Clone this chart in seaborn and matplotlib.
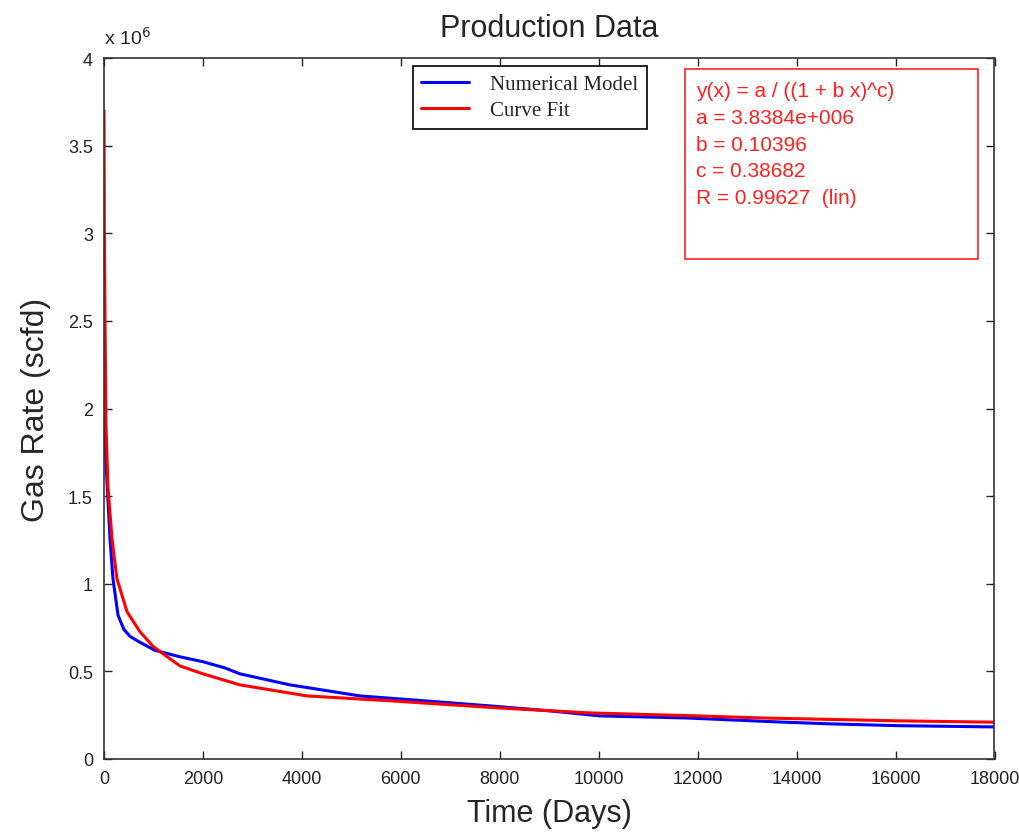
import pandas as pd
import matplotlib
matplotlib.use("Agg")
import matplotlib.pyplot as plt
import matplotlib.patches as patches
from matplotlib.ticker import FuncFormatter, MultipleLocator
import seaborn as sns

# Values
model_days = [0, 10, 30, 60, 120, 180, 283, 400, 525, 700, 1030, 1535, 2000,
              2440, 2747, 3758, 4500, 5170, 6525, 7800, 9000, 10020, 11780,
              13660, 14730, 16080, 18000]
model_rate = [2.25e6, 1.90e6, 1.75e6, 1.58e6, 1.26e6, 1.03e6, 0.82e6, 0.74e6,
              0.70e6, 0.67e6, 0.62e6, 0.583e6, 0.555e6, 0.52e6, 0.486e6,
              0.423e6, 0.39e6, 0.36e6, 0.331e6, 0.303e6, 0.275e6, 0.246e6,
              0.234e6, 0.211e6, 0.20e6, 0.19e6, 0.183e6]

fit_days = [0, 5, 20, 40, 80, 160, 260, 465, 727, 1000, 1535, 2000, 2747,
            4100, 5840, 8000, 9818, 11980, 13313, 16000, 18000]
fit_rate = [3.70e6, 3.10e6, 2.50e6, 1.90e6, 1.55e6, 1.26e6, 1.03e6, 0.84e6,
            0.726e6, 0.64e6, 0.531e6, 0.486e6, 0.423e6, 0.36e6, 0.331e6,
            0.291e6, 0.263e6, 0.246e6, 0.234e6, 0.218e6, 0.21e6]

fit_text = ["y(x) = a / ((1 + b x)^c)",
            "a = 3.8384e+006",
            "b = 0.10396",
            "c = 0.38682",
            "R = 0.99627  (lin)"]

df_model = pd.DataFrame({"days": model_days, "rate": model_rate})
df_fit = pd.DataFrame({"days": fit_days, "rate": fit_rate})

sns.set_style("ticks")
plt.rcParams['font.family'] = ['Liberation Sans', 'DejaVu Sans']

fig = plt.figure(figsize=(10.2, 8.37), dpi=100)
ax = fig.add_axes([0.102, 0.092, 0.873, 0.8375])

sns.lineplot(data=df_model, x="days", y="rate", color="#0000ff", lw=2.2,
             label="Numerical Model", ax=ax)
sns.lineplot(data=df_fit, x="days", y="rate", color="#ff0000", lw=2.2,
             label="Curve Fit", ax=ax)

ax.set_xlim(0, 18000)
ax.set_ylim(0, 4e6)
ax.xaxis.set_major_locator(MultipleLocator(2000))
ax.yaxis.set_major_locator(MultipleLocator(0.5e6))
ax.yaxis.set_major_formatter(FuncFormatter(lambda v, p: "%g" % (v / 1e6)))
ax.tick_params(direction="in", top=True, right=True, length=6, width=1,
               labelsize=13, pad=8, colors="#222222")
for s in ax.spines.values():
    s.set_color("#333333")
    s.set_linewidth(1.2)

ax.set_xlabel("Time (Days)", fontsize=22, labelpad=8)
ax.set_ylabel("Gas Rate (scfd)", fontsize=23, labelpad=12)
ax.set_title("Production Data", fontsize=22, pad=16)
ax.text(0.0, 1.015, r"x 10$^6$", transform=ax.transAxes, fontsize=14,
        ha="left", va="bottom")

leg = ax.legend(loc="upper left", bbox_to_anchor=(0.347, 0.988),
                borderaxespad=0, fancybox=False, framealpha=1,
                edgecolor="black", handlelength=2.3, handletextpad=1.0,
                borderpad=0.4, labelspacing=0.3,
                prop={"family": "Liberation Serif", "size": 15})
leg.get_frame().set_linewidth(1.2)

# fit results box
ax.add_patch(patches.Rectangle((0.652, 0.713), 0.329, 0.271,
                               transform=ax.transAxes, fill=False,
                               edgecolor="#ff2020", lw=1.2))
for i, line in enumerate(fit_text):
    ax.text(0.665, 0.953 - i * 0.038, line, transform=ax.transAxes,
            color="#ff2020", fontsize=15, va="center", ha="left")

fig.savefig("out.png", dpi=100)
